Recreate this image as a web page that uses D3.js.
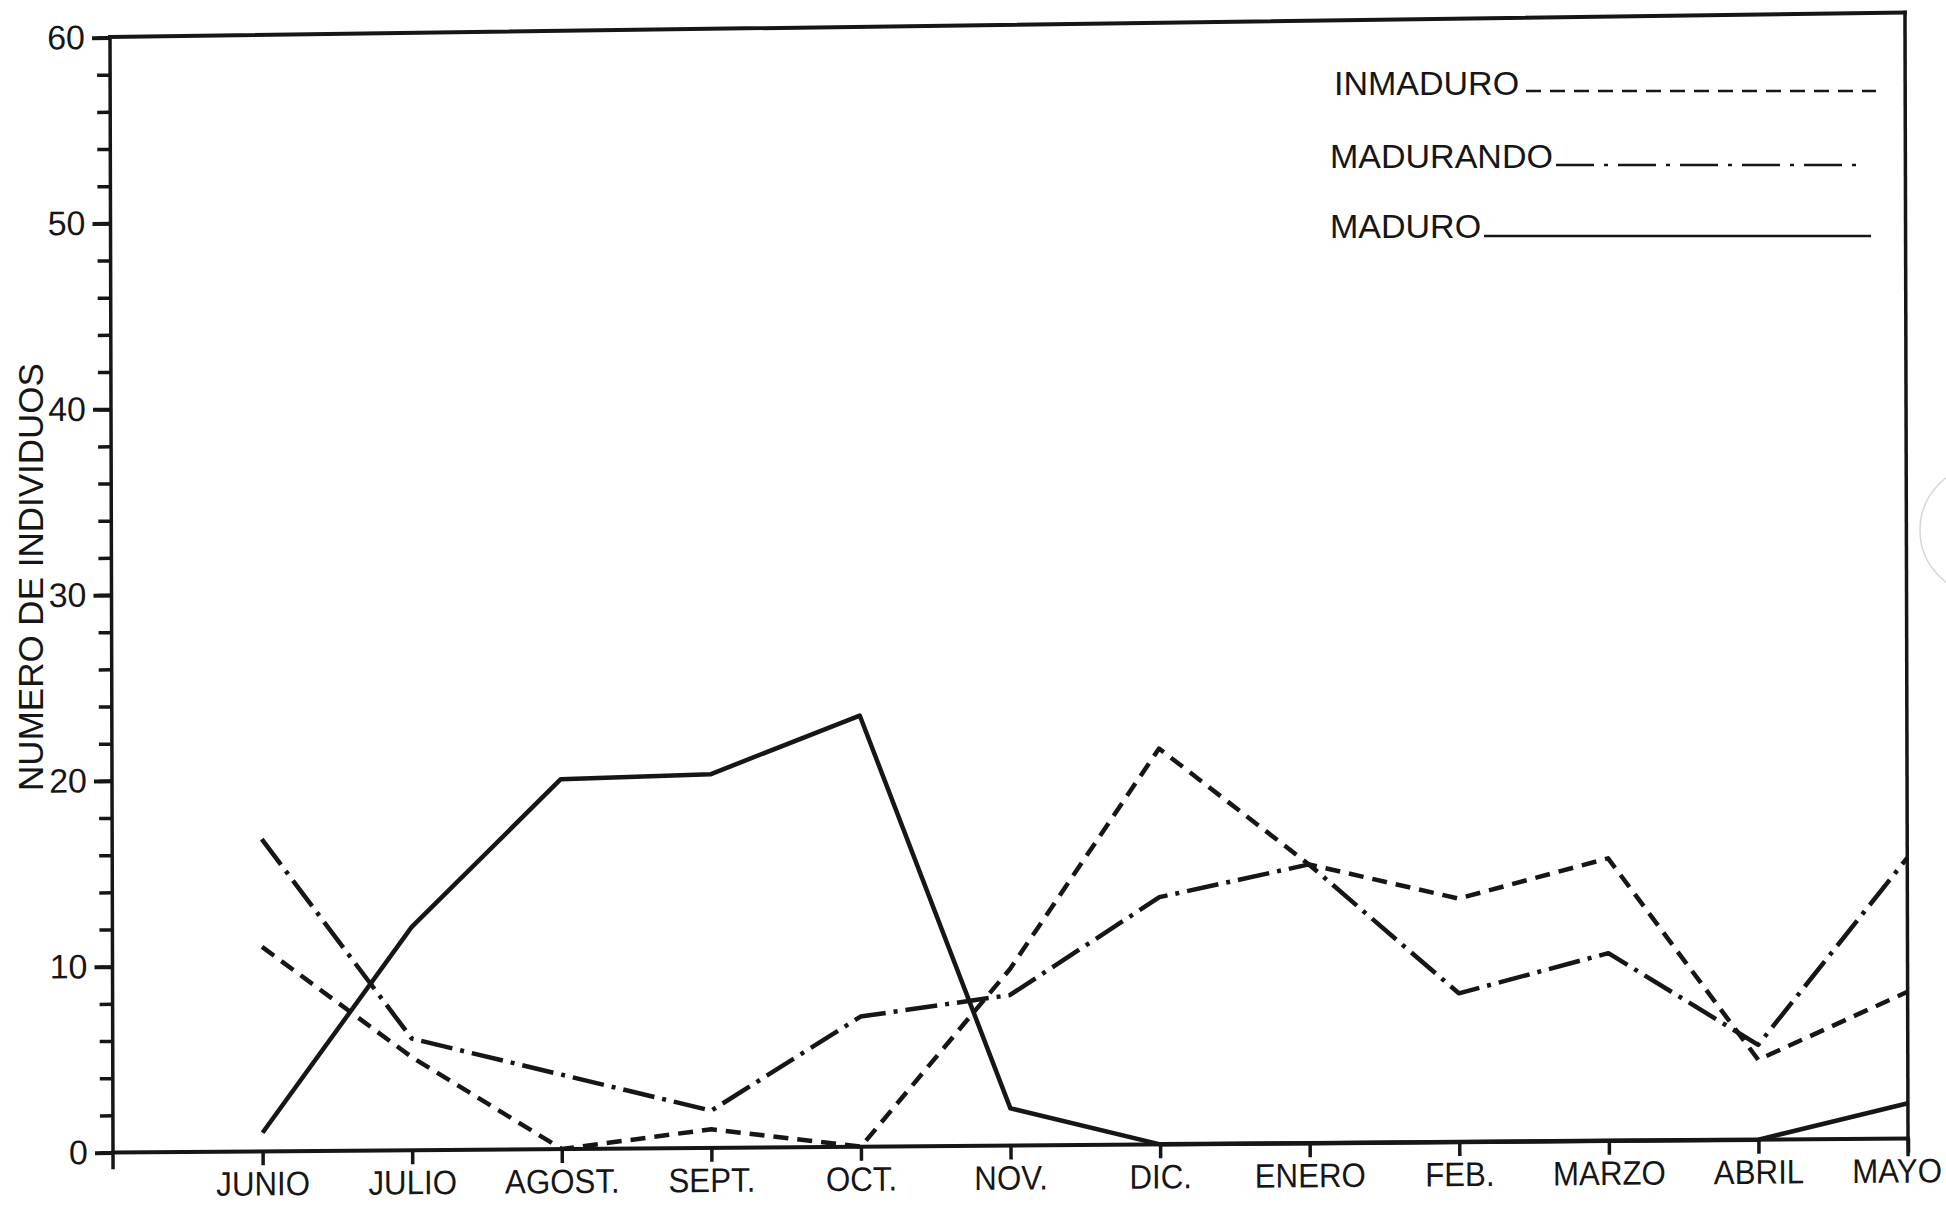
<!DOCTYPE html>
<html>
<head>
<meta charset="utf-8">
<script src="https://cdn.jsdelivr.net/npm/d3@7"></script>
<style>
  html, body { margin: 0; padding: 0; background: #fff; }
  svg { display: block; }
  text { font-family: "Liberation Sans", Arial, sans-serif; fill: #161616; }
</style>
</head>
<body>
<svg id="chart" width="1946" height="1206"></svg>
<script>
// Monthly counts of individuals by maturity stage
const months = ["JUNIO", "JULIO", "AGOST.", "SEPT.", "OCT.", "NOV.", "DIC.", "ENERO", "FEB.", "MARZO", "ABRIL", "MAYO"];
const inmaduro  = [11, 5, 0, 1, 0, 9.5, 21.3, 15, 13.1, 15.2, 4.3, 7.9];
const madurando = [16.8, 6, 4, 2, 7, 8.1, 13.3, 15, 8, 10.1, 5.1, 15.1];
const maduro    = [1, 12, 19.9, 20.1, 23.2, 2, 0, 0, 0, 0, 0, 1.9];
const yMajorTicks = [0, 10, 20, 30, 40, 50, 60];
const yMinorTicks = d3.range(0, 61, 2);
const seriesNames = ["INMADURO", "MADURANDO", "MADURO"];
const yTitle = "NUMERO DE INDIVIDUOS";

const INK = "#161616";
const FONT = "'Liberation Sans', Arial, sans-serif";
const W = 1795, H = 1115;
const SVG_W = 1946;

const svg = d3.select("#chart");

// faint ring near the right edge of the sheet
svg.append("circle")
  .attr("cx", 1985).attr("cy", 530).attr("r", 65)
  .attr("fill", "none").attr("stroke", "#d6d6d6").attr("stroke-width", 1.5);

// plotting frame, slightly skewed like the plotted sheet
const plot = svg.append("g")
  .attr("transform", "matrix(1,-0.0078,0.0027,1,110,37.5)");
// the top edge of the frame leans a little more than the baseline
const topEdge = svg.append("g")
  .attr("transform", "matrix(1,-0.0136,0.0027,1,110,37)");

const x = d3.scaleLinear().domain([0, 12]).range([0, W]);
const y = d3.scaleLinear().domain([0, 60]).range([H, 0]);

// frame lines
topEdge.append("line")
  .attr("x1", x(0)).attr("y1", y(60)).attr("x2", x(12)).attr("y2", y(60))
  .attr("stroke", INK).attr("stroke-width", 4).attr("stroke-linecap", "square");

const frame = plot.append("g")
  .attr("stroke", INK).attr("stroke-linecap", "square").attr("fill", "none");
frame.append("line").attr("x1", x(0)).attr("y1", y(60)).attr("x2", x(0)).attr("y2", y(0) + 15).attr("stroke-width", 3.5);
frame.append("line").attr("x1", x(0)).attr("y1", y(0)).attr("x2", x(12)).attr("y2", y(0)).attr("stroke-width", 4);
frame.append("line").attr("x1", x(12)).attr("y1", y(60) - 11).attr("x2", x(12)).attr("y2", y(0) + 16).attr("stroke-width", 3.5);

// y axis: minor ticks every 2, major ticks with labels every 10
plot.append("g")
  .call(d3.axisLeft(y).tickValues(yMinorTicks).tickSize(13).tickFormat(""))
  .call(g => g.select(".domain").remove())
  .call(g => g.selectAll(".tick line").attr("stroke", INK).attr("stroke-width", 3.5));

plot.append("g")
  .call(d3.axisLeft(y).tickValues(yMajorTicks).tickSize(18).tickPadding(7).tickFormat(d3.format("d")))
  .call(g => g.select(".domain").remove())
  .call(g => g.selectAll(".tick line").attr("stroke", INK).attr("stroke-width", 4))
  .call(g => g.selectAll(".tick text")
    .attr("font-size", 34)
    .attr("font-family", FONT)
    .attr("fill", INK));

// x axis: month ticks below the baseline, lettering slightly condensed
const xAxis = plot.append("g")
  .attr("transform", `translate(0,${H})`)
  .call(d3.axisBottom(x).tickValues(d3.range(1, 13)).tickSize(14).tickPadding(6)
    .tickFormat(i => months[i - 1]))
  .call(g => g.select(".domain").remove())
  .call(g => g.selectAll(".tick line").attr("stroke", INK).attr("stroke-width", 3.5))
  .call(g => g.selectAll(".tick text")
    .attr("font-size", 34)
    .attr("font-family", FONT)
    .attr("fill", INK)
    .attr("transform", "scale(0.92,1)"));

// keep month labels inside the sheet
xAxis.selectAll(".tick text").each(function () {
  const r = this.getBoundingClientRect();
  const over = r.right - (SVG_W - 4);
  if (over > 0) d3.select(this).attr("dx", -over / 0.92);
});

// series
const line = d3.line()
  .x((d, i) => x(i + 1))
  .y(d => y(d));

const styles = {
  INMADURO:  { data: inmaduro,  dash: "15,9",       legendDash: "15,9" },
  MADURANDO: { data: madurando, dash: "32,8,4,8",   legendDash: "38,10,4,10" },
  MADURO:    { data: maduro,    dash: null,         legendDash: null }
};

seriesNames.forEach(name => {
  const s = styles[name];
  plot.append("path")
    .datum(s.data)
    .attr("d", line)
    .attr("fill", "none")
    .attr("stroke", INK)
    .attr("stroke-width", 4.5)
    .attr("stroke-linejoin", "round")
    .attr("stroke-dasharray", s.dash);
});

// y axis title
svg.append("text")
  .attr("transform", "translate(43,577) rotate(-90)")
  .attr("text-anchor", "middle")
  .attr("font-size", 35)
  .text(yTitle);

// legend: label followed by a sample line
const legendRows = [
  { name: "INMADURO",  tx: 1334, ty: 95,  lx1: 1526, lx2: 1876, ly: 91 },
  { name: "MADURANDO", tx: 1330, ty: 168, lx1: 1556, lx2: 1866, ly: 165 },
  { name: "MADURO",    tx: 1330, ty: 238, lx1: 1484, lx2: 1871, ly: 236 }
];
const legend = svg.append("g");
legendRows.forEach(r => {
  legend.append("text")
    .attr("x", r.tx).attr("y", r.ty)
    .attr("font-size", 34)
    .text(r.name);
  legend.append("line")
    .attr("x1", r.lx1).attr("x2", r.lx2)
    .attr("y1", r.ly).attr("y2", r.ly)
    .attr("stroke", INK)
    .attr("stroke-width", 2.5)
    .attr("stroke-dasharray", styles[r.name].legendDash);
});
</script>
</body>
</html>
